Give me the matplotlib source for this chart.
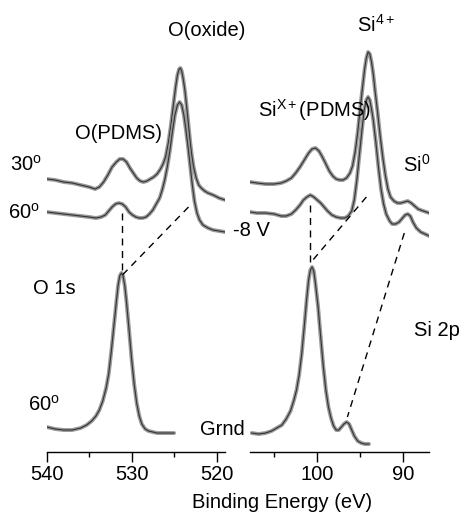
import matplotlib
matplotlib.use("Agg")
import matplotlib.pyplot as plt
from matplotlib.ticker import MultipleLocator

plt.rcParams["font.family"] = ["Liberation Sans", "DejaVu Sans"]
plt.rcParams["mathtext.fontset"] = "custom"
plt.rcParams["mathtext.rm"] = "Liberation Sans"
plt.rcParams["mathtext.it"] = "Liberation Sans"

# O 1s, binding energy (eV) and intensity (a.u., offset stacked)
o_30_energy = [540.0, 539.0, 538.0, 537.0, 536.0, 535.0, 534.3, 533.8, 533.3, 532.8,
               532.3, 531.8, 531.4, 531.0, 530.6, 530.2, 529.8, 529.4, 529.0, 528.6,
               528.2, 527.8, 527.4, 527.0, 526.6, 526.3, 526.0, 525.7, 525.4, 525.1,
               524.8, 524.6, 524.4, 524.25, 524.1, 523.9, 523.7, 523.5, 523.3, 523.1,
               522.9, 522.7, 522.4, 522.1, 521.8, 521.4, 521.0, 520.4, 519.7, 519.0]
o_30_int = [273, 272, 270, 269, 267, 265, 263, 265, 270, 277,
            285, 290, 293, 293, 290, 284, 279, 274, 271, 270,
            271, 273, 275, 278, 283, 288, 295, 308, 325, 346,
            366, 377, 383, 384, 381, 372, 360, 344, 327, 310,
            296, 285, 274, 267, 264, 261, 259, 257, 254, 252]

o_60_energy = [540.0, 539.0, 538.0, 537.0, 536.0, 535.0, 534.2, 533.6, 533.1, 532.7,
               532.3, 531.9, 531.5, 531.1, 530.7, 530.3, 529.9, 529.5, 529.1, 528.7,
               528.3, 527.9, 527.5, 527.1, 526.7, 526.4, 526.1, 525.8, 525.5, 525.2,
               524.9, 524.6, 524.35, 524.1, 523.85, 523.6, 523.35, 523.1, 522.85, 522.6,
               522.3, 522.0, 521.6, 521.0, 520.4, 519.7, 519.0]
o_60_int = [240, 239, 238, 237, 236, 235, 234, 235, 237, 241,
            245, 248, 249, 248, 245, 240, 237, 235, 234, 234,
            235, 238, 242, 248, 254, 262, 272, 285, 301, 320,
            337, 347, 350, 347, 337, 322, 305, 286, 267, 251,
            239, 232, 227, 224, 222, 221, 220]

o_gr_energy = [540.0, 539.0, 538.0, 537.0, 536.0, 535.3, 534.7, 534.2, 533.8, 533.4,
               533.0, 532.7, 532.4, 532.1, 531.8, 531.6, 531.4, 531.2, 531.0, 530.8,
               530.6, 530.3, 530.0, 529.7, 529.4, 529.1, 528.8, 528.4, 528.0, 527.0,
               526.0, 525.0]
o_gr_int = [25, 23, 22, 22, 24, 27, 31, 36, 42, 51,
            64, 78, 100, 125, 150, 166, 176, 179, 176, 166,
            150, 122, 93, 68, 49, 36, 28, 23, 21, 19,
            19, 19]

# Si 2p
si_30_energy = [107.8, 107.0, 106.0, 105.0, 104.2, 103.6, 103.0, 102.5, 102.0, 101.5,
                101.0, 100.6, 100.2, 99.8, 99.4, 99.0, 98.6, 98.2, 97.8, 97.4,
                97.0, 96.6, 96.2, 95.9, 95.6, 95.3, 95.0, 94.7, 94.5, 94.3,
                94.1, 93.9, 93.7, 93.5, 93.3, 93.0, 92.7, 92.4, 92.1, 91.8,
                91.5, 91.1, 90.7, 90.3, 89.9, 89.5, 89.1, 88.7, 88.3, 87.7, 87.0]
si_30_int = [270, 269, 268, 268, 269, 271, 274, 279, 285, 292,
             299, 303, 304, 301, 295, 288, 281, 276, 273, 272,
             272, 274, 279, 286, 300, 320, 345, 368, 383, 394,
             400, 398, 390, 378, 362, 340, 316, 295, 277, 263,
             255, 251, 249, 249, 250, 251, 249, 246, 243, 241, 239]

si_60_energy = [107.8, 107.0, 106.0, 105.0, 104.2, 103.6, 103.0, 102.5, 102.0, 101.6,
                101.2, 100.8, 100.4, 100.0, 99.6, 99.2, 98.8, 98.3, 97.8, 97.3,
                96.8, 96.4, 96.0, 95.7, 95.4, 95.1, 94.8, 94.55, 94.3, 94.1,
                93.9, 93.7, 93.5, 93.2, 92.9, 92.6, 92.3, 92.0, 91.6, 91.3,
                90.9, 90.5, 90.1, 89.8, 89.5, 89.2, 88.9, 88.5, 88.0, 87.5, 87.0]
si_60_int = [240, 239, 239, 238, 236, 236, 238, 242, 247, 252,
             255, 257, 255, 252, 249, 245, 241, 237, 235, 234,
             234, 236, 241, 252, 272, 298, 323, 342, 352, 355,
             352, 343, 332, 310, 285, 263, 248, 238, 231, 228,
             228, 230, 234, 237, 238, 236, 230, 224, 220, 218, 216]

si_gr_energy = [107.6, 106.8, 106.0, 105.3, 104.7, 104.1, 103.6, 103.1, 102.7, 102.4,
                102.1, 101.8, 101.5, 101.2, 101.0, 100.8, 100.6, 100.4, 100.2, 99.9,
                99.6, 99.3, 99.0, 98.7, 98.4, 98.1, 97.8, 97.5, 97.2, 96.9,
                96.6, 96.3, 96.0, 95.7, 95.3, 94.9, 94.5, 94.0]
si_gr_int = [19, 18, 19, 21, 24, 27, 33, 41, 52, 62,
             77, 98, 126, 155, 172, 182, 185, 181, 168, 145,
             115, 86, 62, 45, 34, 26, 22, 22, 25, 28,
             30, 28, 22, 16, 11, 9, 8, 8]

# dashed guides: (energy1, int1, energy2, int2)
o_guides = [(531.1, 239, 531.1, 179), (523.3, 245, 531.2, 176)]
si_guides = [(100.8, 247, 100.8, 190), (94.3, 255, 100.8, 189), (89.9, 219, 96.5, 35)]

fig = plt.figure(figsize=(4.61, 5.21), dpi=100)
ax1 = fig.add_axes([0.1013, 0.1324, 0.3868, 0.8676])
ax2 = fig.add_axes([0.5423, 0.1324, 0.3889, 0.8676])


def draw_curve(ax, e, y):
    ax.plot(e, y, color="#9a9a9a", lw=2.8, solid_joinstyle="round", solid_capstyle="round")
    ax.plot(e, y, color="#333333", lw=0.8)


for e, y in [(o_30_energy, o_30_int), (o_60_energy, o_60_int), (o_gr_energy, o_gr_int)]:
    draw_curve(ax1, e, y)
for e, y in [(si_30_energy, si_30_int), (si_60_energy, si_60_int), (si_gr_energy, si_gr_int)]:
    draw_curve(ax2, e, y)

for ax, guides in [(ax1, o_guides), (ax2, si_guides)]:
    for x1, y1, x2, y2 in guides:
        ax.plot([x1, x2], [y1, y2], color="black", lw=1.0, dashes=(5, 4))

ax1.set_xlim(540, 519.0)
ax2.set_xlim(107.8, 87.0)

for ax in [ax1, ax2]:
    ax.set_ylim(0, 452)
    ax.set_yticks([])
    for s in ["left", "top", "right"]:
        ax.spines[s].set_visible(False)
    ax.spines["bottom"].set_linewidth(1.0)
    ax.xaxis.set_major_locator(MultipleLocator(10))
    ax.xaxis.set_minor_locator(MultipleLocator(5))
    ax.tick_params(axis="x", which="major", direction="out", length=7, width=1,
                   labelsize=14.5, pad=2)
    ax.tick_params(axis="x", which="minor", direction="out", length=3.5, width=1)
    ax.patch.set_visible(False)

fs = 14.5
ax1.text(521.1, 422, "O(oxide)", fontsize=fs, ha="center", va="center", clip_on=False)
ax1.text(531.5, 319, "O(PDMS)", fontsize=fs, ha="center", va="center", clip_on=False)
ax1.text(544.3, 287, "30$^{\\mathrm{o}}$", fontsize=fs, ha="left", va="center", clip_on=False)
ax1.text(544.5, 239, "60$^{\\mathrm{o}}$", fontsize=fs, ha="left", va="center", clip_on=False)
ax1.text(541.6, 164, "O 1s", fontsize=fs, ha="left", va="center", clip_on=False)
ax1.text(542.2, 47, "60$^{\\mathrm{o}}$", fontsize=fs, ha="left", va="center", clip_on=False)
ax1.text(522.0, 23, "Grnd", fontsize=fs, ha="left", va="center", clip_on=False)

ax2.text(95.36, 427, "Si$^{\\mathrm{4+}}$", fontsize=fs, ha="left", va="center", clip_on=False)
ax2.text(106.9, 342, "Si$^{\\mathrm{X+}}$(PDMS)", fontsize=fs, ha="left", va="center", clip_on=False)
ax2.text(90.1, 287, "Si$^{\\mathrm{0}}$", fontsize=fs, ha="left", va="center", clip_on=False)
ax2.text(109.8, 222, "-8 V", fontsize=fs, ha="left", va="center", clip_on=False)
ax2.text(88.8, 122, "Si 2p", fontsize=fs, ha="left", va="center", clip_on=False)

fig.text(282 / 461, 1 - 503 / 521, "Binding Energy (eV)", fontsize=fs, ha="center", va="center")

fig.savefig("out.png", dpi=100)
